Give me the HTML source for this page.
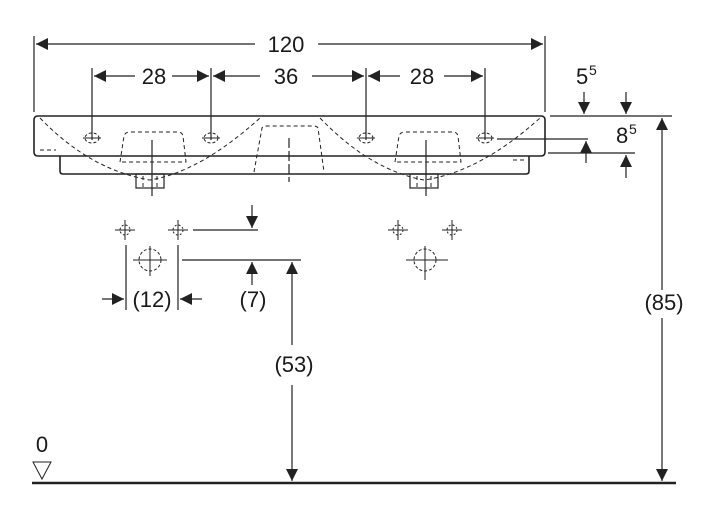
<!DOCTYPE html>
<html><head><meta charset="utf-8"><style>
html,body{margin:0;padding:0;background:#fff;}
svg{display:block;}
text{font-family:"Liberation Sans",sans-serif;fill:#1a1a1a;}
</style></head><body>
<svg width="720" height="519" viewBox="0 0 720 519" xmlns="http://www.w3.org/2000/svg">
<defs>
<marker id="a" viewBox="0 0 10 10" refX="10" refY="5" markerWidth="14" markerHeight="12" markerUnits="userSpaceOnUse" orient="auto"><path d="M0,0 L10,5 L0,10z" fill="#222"/></marker>
</defs>
<g stroke="#222" stroke-width="1.2" fill="none">
<!-- 120 -->
<line x1="34" y1="36" x2="34" y2="112"/><line x1="545" y1="36" x2="545" y2="112"/>
<line x1="255" y1="44" x2="36" y2="44" marker-end="url(#a)"/>
<line x1="318" y1="44" x2="543" y2="44" marker-end="url(#a)"/>
<!-- 28 36 28 -->
<line x1="92" y1="68" x2="92" y2="140"/><line x1="211" y1="68" x2="211" y2="140"/>
<line x1="366" y1="68" x2="366" y2="140"/><line x1="485" y1="68" x2="485" y2="140"/>
<line x1="135" y1="76" x2="94" y2="76" marker-end="url(#a)"/>
<line x1="172" y1="76" x2="209" y2="76" marker-end="url(#a)"/>
<line x1="260" y1="76" x2="213" y2="76" marker-end="url(#a)"/>
<line x1="312" y1="76" x2="364" y2="76" marker-end="url(#a)"/>
<line x1="400" y1="76" x2="368" y2="76" marker-end="url(#a)"/>
<line x1="444" y1="76" x2="483" y2="76" marker-end="url(#a)"/>
<!-- basin -->
<path d="M38,116 H541 Q545,116 545,120 V152 Q545,156 541,156 H38 Q34,156 34,152 V120 Q34,116 38,116Z" stroke-width="1.6"/>
<path d="M60,156 V171 Q60,174 63,174 H526 Q529,174 529,171 V156" stroke-width="1.6"/>
<rect x="136" y="174" width="28" height="14"/><rect x="410" y="174" width="28" height="14"/>
<g stroke-dasharray="4,3" stroke-width="1">
<path d="M40,118 Q90,170 150,180 Q200,172 260,118"/>
<path d="M320,118 Q370,170 424,180 Q480,172 540,118"/>
<path d="M120,162 L124,136 Q125,132 130,132 H178 Q182,132 183,136 L186,162 Z"/>
<path d="M395,162 L399,136 Q400,132 405,132 H453 Q457,132 458,136 L461,162 Z"/>
<path d="M254,172 L262,128 Q263,126 267,126 H313 Q317,126 318,128 L324,172"/>
<path d="M40,150 H56"/><path d="M513,160 H527"/>
<line x1="143" y1="176" x2="143" y2="188"/><line x1="157" y1="176" x2="157" y2="188"/>
<line x1="417" y1="176" x2="417" y2="188"/><line x1="431" y1="176" x2="431" y2="188"/>
</g>
<line x1="152" y1="140" x2="152" y2="196"/><line x1="426" y1="140" x2="426" y2="196"/>
<line x1="289" y1="138" x2="289" y2="182" stroke-dasharray="10,3"/>
<g stroke-width="1"><ellipse cx="92" cy="138" rx="7" ry="5" stroke-dasharray="3,2"/><line x1="83" y1="138" x2="101" y2="138"/>
<ellipse cx="211" cy="138" rx="7" ry="5" stroke-dasharray="3,2"/><line x1="202" y1="138" x2="220" y2="138"/>
<ellipse cx="366" cy="138" rx="7" ry="5" stroke-dasharray="3,2"/><line x1="357" y1="138" x2="375" y2="138"/>
<ellipse cx="485" cy="138" rx="7" ry="5" stroke-dasharray="3,2"/><line x1="476" y1="138" x2="494" y2="138"/></g>
<!-- right dims -->
<line x1="550" y1="116" x2="672" y2="116"/>
<line x1="497" y1="139" x2="588" y2="139"/>
<line x1="548" y1="153" x2="635" y2="153"/>
<line x1="584" y1="92" x2="584" y2="114" marker-end="url(#a)"/>
<line x1="626" y1="92" x2="626" y2="114" marker-end="url(#a)"/>
<line x1="586" y1="163" x2="586" y2="141" marker-end="url(#a)"/>
<line x1="626" y1="178" x2="626" y2="155" marker-end="url(#a)"/>
<line x1="662" y1="290" x2="662" y2="118" marker-end="url(#a)"/>
<line x1="662" y1="318" x2="662" y2="481" marker-end="url(#a)"/>
<!-- valves -->
<g stroke-width="1">
<line x1="115" y1="230" x2="135" y2="230"/><line x1="125" y1="220" x2="125" y2="240"/><circle cx="125" cy="230" r="5" stroke-dasharray="2,2"/>
<line x1="168" y1="230" x2="188" y2="230"/><line x1="178" y1="220" x2="178" y2="240"/><circle cx="178" cy="230" r="5" stroke-dasharray="2,2"/>
<line x1="388" y1="230" x2="408" y2="230"/><line x1="398" y1="220" x2="398" y2="240"/><circle cx="398" cy="230" r="5" stroke-dasharray="2,2"/>
<line x1="442" y1="230" x2="462" y2="230"/><line x1="452" y1="220" x2="452" y2="240"/><circle cx="452" cy="230" r="5" stroke-dasharray="2,2"/>
<line x1="133" y1="260" x2="167" y2="260"/><line x1="150" y1="246" x2="150" y2="276"/><circle cx="150" cy="260" r="11" stroke-dasharray="3,2"/>
<line x1="406" y1="260" x2="448" y2="260"/><line x1="425" y1="246" x2="425" y2="280"/><circle cx="425" cy="260" r="11" stroke-dasharray="3,2"/>
</g>
<line x1="193" y1="230" x2="258" y2="230"/>
<line x1="182" y1="260" x2="301" y2="260"/>
<line x1="252" y1="205" x2="252" y2="228" marker-end="url(#a)"/>
<line x1="252" y1="285" x2="252" y2="262" marker-end="url(#a)"/>
<line x1="126" y1="245" x2="126" y2="310"/><line x1="178" y1="245" x2="178" y2="310"/>
<line x1="102" y1="299" x2="124" y2="299" marker-end="url(#a)"/>
<line x1="202" y1="299" x2="180" y2="299" marker-end="url(#a)"/>
<line x1="292" y1="345" x2="292" y2="262" marker-end="url(#a)"/>
<line x1="292" y1="385" x2="292" y2="481" marker-end="url(#a)"/>
<!-- floor -->
<line x1="32" y1="483" x2="676" y2="483" stroke-width="2.5"/>
<path d="M33,462 H51 L42,479Z" stroke-width="1"/>
</g>
<g font-size="22">
<text x="286" y="52" text-anchor="middle">120</text>
<text x="154" y="84" text-anchor="middle">28</text>
<text x="286" y="84" text-anchor="middle">36</text>
<text x="422" y="84" text-anchor="middle">28</text>
<text x="576" y="84">5</text><text x="589" y="75" font-size="14">5</text>
<text x="616" y="143">8</text><text x="629" y="134" font-size="14">5</text>
<text x="664" y="310" text-anchor="middle">(85)</text>
<text x="294" y="372" text-anchor="middle">(53)</text>
<text x="152" y="307" text-anchor="middle">(12)</text>
<text x="253" y="307" text-anchor="middle">(7)</text>
<text x="42" y="452" text-anchor="middle">0</text>
</g>
</svg>
</body></html>
